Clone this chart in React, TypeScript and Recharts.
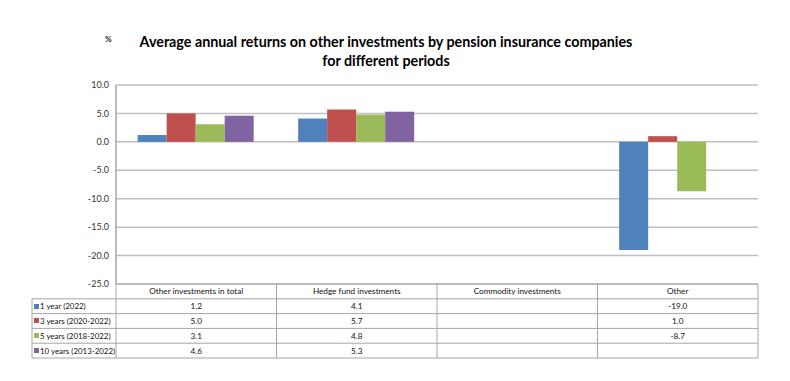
import React from "react";
import { BarChart, Bar, XAxis, YAxis, CartesianGrid } from "recharts";

const categories = ["Other investments in total", "Hedge fund investments", "Commodity investments", "Other"];
const seriesNames = ["1 year (2022)", "3 years (2020-2022)", "5 years (2018-2022)", "10 years (2013-2022)"];
const oneYear: (number | null)[] = [1.2, 4.1, null, -19.0];
const threeYears: (number | null)[] = [5.0, 5.7, null, 1.0];
const fiveYears: (number | null)[] = [3.1, 4.8, null, -8.7];
const tenYears: (number | null)[] = [4.6, 5.3, null, null];
const yTicks = [-25, -20, -15, -10, -5, 0, 5, 10];
const colors = ["#4F81BD", "#C0504D", "#9BBB59", "#8064A2"];

const seriesValues = [oneYear, threeYears, fiveYears, tenYears];
const keys = ["s1", "s3", "s5", "s10"];
const data = categories.map((c, i) => ({
  name: c,
  s1: oneYear[i],
  s3: threeYears[i],
  s5: fiveYears[i],
  s10: tenYears[i],
}));

const W = 790;
const H = 381;
const plotLeft = 116;
const plotRight = 758;
const plotTop = 85;
const plotBottom = 284;
const font = "Lato, 'Open Sans', sans-serif";
const gridColor = "#bfbfbf";
const borderColor = "#a6a6a6";

export default function App() {
  const catW = (plotRight - plotLeft) / categories.length;
  const rowH = 14.8;
  const tableLeft = 32;
  const cellStyle: React.CSSProperties = {
    position: "absolute",
    boxSizing: "border-box",
    fontFamily: font,
    fontSize: 8.2,
    color: "#111",
    display: "flex",
    alignItems: "center",
    justifyContent: "center",
    whiteSpace: "nowrap",
  };
  const cells: React.ReactNode[] = [];
  categories.forEach((c, i) => {
    cells.push(
      <div key={"h" + i} style={{ ...cellStyle, left: plotLeft + i * catW, top: plotBottom, width: catW, height: rowH }}>
        {c}
      </div>
    );
  });
  seriesNames.forEach((s, r) => {
    const top = plotBottom + rowH * (r + 1);
    cells.push(
      <div key={"l" + r} style={{ ...cellStyle, left: tableLeft, top, width: plotLeft - tableLeft, height: rowH, justifyContent: "flex-start", paddingLeft: 1.5, fontSize: 7.9 }}>
        <span style={{ display: "inline-block", flexShrink: 0, width: 5, height: 5, background: colors[r], marginRight: 1.5 }} />
        {s}
      </div>
    );
    categories.forEach((c, i) => {
      const v = seriesValues[r][i];
      cells.push(
        <div key={"c" + r + "-" + i} style={{ ...cellStyle, left: plotLeft + i * catW, top, width: catW, height: rowH }}>
          {v == null ? "" : v.toFixed(1)}
        </div>
      );
    });
  });
  const lines: React.ReactNode[] = [];
  for (let r = 0; r <= seriesNames.length + 1; r++) {
    const y = plotBottom + rowH * r;
    const x1 = r === 0 ? plotLeft : tableLeft;
    lines.push(<line key={"hr" + r} x1={x1} x2={plotRight} y1={y} y2={y} stroke={borderColor} strokeWidth={1} />);
  }
  const tableBottom = plotBottom + rowH * (seriesNames.length + 1);
  lines.push(<line key="vl0" x1={tableLeft} x2={tableLeft} y1={plotBottom + rowH} y2={tableBottom} stroke={borderColor} />);
  for (let i = 0; i <= categories.length; i++) {
    const x = plotLeft + i * catW;
    lines.push(<line key={"v" + i} x1={x} x2={x} y1={plotBottom} y2={tableBottom} stroke={borderColor} />);
  }

  return (
    <div style={{ position: "absolute", left: 0, top: 0, width: W, height: H, background: "#fff", overflow: "hidden" }}>
      <div style={{ position: "absolute", left: 105, top: 34, fontFamily: font, fontSize: 8, fontWeight: 700, color: "#222" }}>%</div>
      <div
        style={{
          position: "absolute",
          left: 0,
          width: 772,
          top: 32,
          textAlign: "center",
          fontFamily: font,
          fontSize: 14.3,
          lineHeight: "19px",
          fontWeight: 700,
          color: "#000",
        }}
      >
        Average annual returns on other investments by pension insurance companies
        <br />
        for different periods
      </div>
      <div style={{ position: "absolute", left: 0, top: 0 }}>
        <BarChart
          width={W}
          height={H}
          data={data}
          margin={{ top: plotTop, right: W - plotRight, bottom: H - plotBottom, left: 66 }}
          barCategoryGap="13.5%"
          barGap={0}
        >
          <CartesianGrid vertical={false} stroke={gridColor} strokeWidth={1.5} />
          <XAxis dataKey="name" hide />
          <YAxis
            width={50}
            domain={[-25, 10]}
            ticks={yTicks}
            interval={0}
            tickFormatter={(v: number) => v.toFixed(1)}
            tick={{ fontSize: 9, fill: "#333", fontFamily: font }}
            tickLine={false}
            tickSize={0}
            tickMargin={7}
            axisLine={{ stroke: borderColor, strokeWidth: 1.5 }}
            allowDataOverflow
          />
          {keys.map((k, i) => (
            <Bar key={k} dataKey={k} name={seriesNames[i]} fill={colors[i]} isAnimationActive={false} />
          ))}
        </BarChart>
      </div>
      <svg style={{ position: "absolute", left: 0, top: 0 }} width={W} height={H}>
        {lines}
      </svg>
      {cells}
    </div>
  );
}
